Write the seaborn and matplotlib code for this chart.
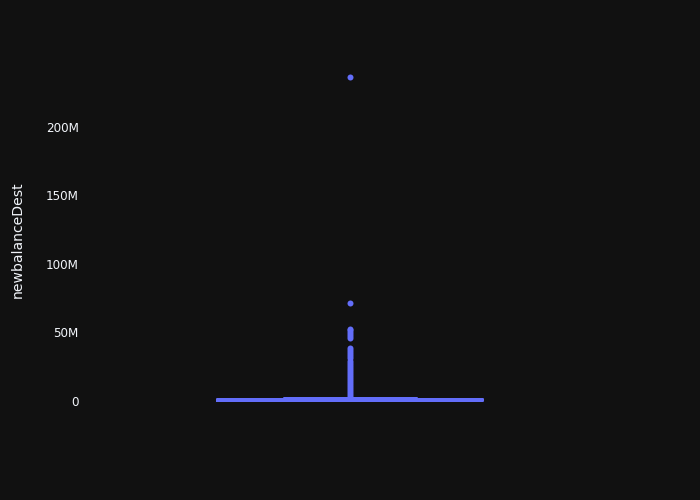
import matplotlib
matplotlib.use("Agg")
import matplotlib.pyplot as plt
import matplotlib.ticker as mticker
import seaborn as sns
import pandas as pd

# Values in millions
box_values = [0.0, 0.0, 0.4, 1.1, 2.4]  # min, q1, median, q3, upper whisker
outlier_values = [2.9, 4.0, 5.5, 7.0, 8.5, 10.0, 11.5, 13.0, 14.5, 16.0,
                  17.5, 19.0, 20.5, 22.0, 23.5, 25.0, 26.5, 28.0, 29.5, 31.0,
                  32.5, 34.0, 35.5, 37.0, 38.7,
                  46.2, 47.5, 49.0, 50.5, 51.5, 52.6,
                  71.3, 236.3]
ytick_values = [0, 50, 100, 150, 200]
ytick_labels = ["0", "50M", "100M", "150M", "200M"]
y_label = "newbalanceDest"

BG = "#111111"
LINE = "#636efa"
TXT = "#f2f5fa"

sns.set_theme(style="dark")
plt.rcParams["font.family"] = ["DejaVu Sans"]

fig = plt.figure(figsize=(7, 5), dpi=100, facecolor=BG)
ax = fig.add_axes([80 / 700, 80 / 500, 540 / 700, 360 / 500])
ax.set_facecolor(BG)

box_df = pd.DataFrame({"v": [v * 1e6 for v in box_values]})
out_df = pd.DataFrame({"v": [v * 1e6 for v in outlier_values]})

sns.boxplot(data=box_df, y="v", ax=ax, whis=(0, 100), showfliers=False,
            fill=False, color=LINE, linecolor=LINE, saturation=1,
            linewidth=1.44, width=266 / 540)
sns.stripplot(data=out_df, y="v", ax=ax, jitter=False, color=LINE,
              size=4.32, linewidth=0)

ax.set_xlim(-0.5, 0.5)
ax.set_ylim(-13.9e6, 248.9e6)
ax.set_yticks([v * 1e6 for v in ytick_values])
ax.set_yticklabels(ytick_labels)
ax.set_xticks([])
ax.set_xlabel("")
ax.grid(False)
for s in ax.spines.values():
    s.set_visible(False)
ax.tick_params(axis="y", length=0, pad=1, labelsize=8.64, labelcolor=TXT)
ax.set_ylabel(y_label, color=TXT, fontsize=10.08, va="center")
ax.yaxis.set_label_coords((18 - 80) / 540, 0.5)

fig.savefig("out.png", dpi=100, facecolor=BG)
